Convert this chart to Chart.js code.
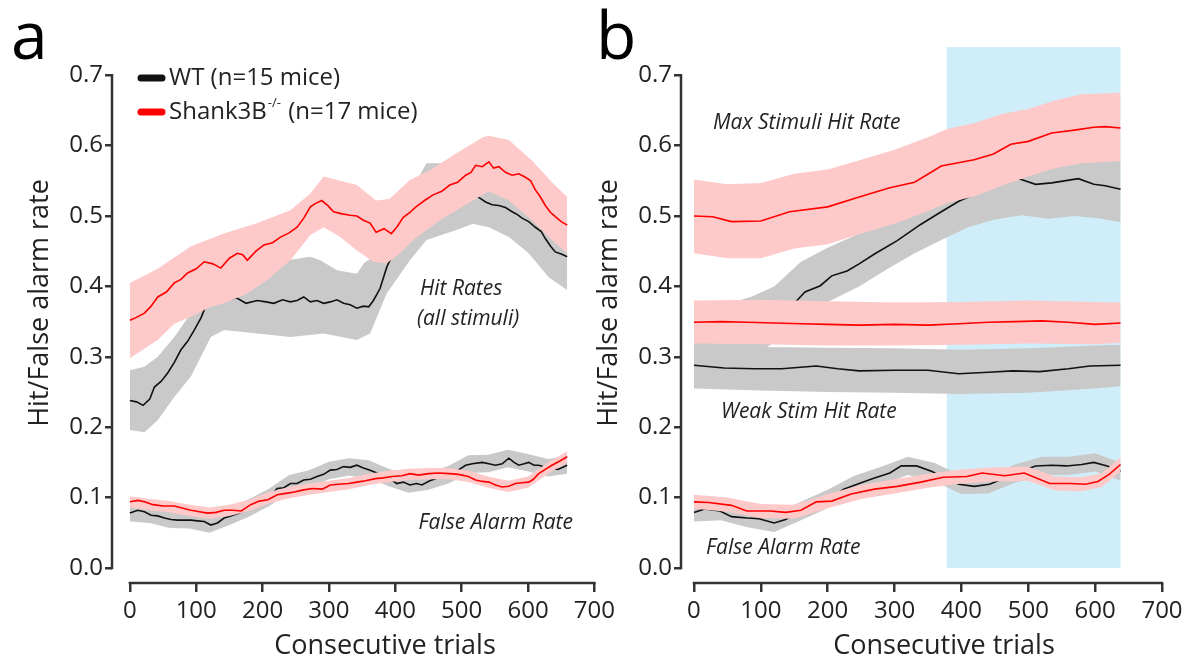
<!DOCTYPE html>
<html>
<head>
<meta charset="utf-8">
<script src="https://cdn.jsdelivr.net/npm/chart.js@4.4.0/dist/chart.umd.min.js"></script>
<style>
  body { margin: 0; background: #fff; width: 1194px; height: 665px; overflow: hidden; position: relative; }
  canvas { position: absolute; top: 0; }
  #panelA { left: 0; }
  #panelB { left: 585px; }
</style>
</head>
<body>
<canvas id="panelA" width="620" height="665"></canvas>
<canvas id="panelB" width="609" height="665"></canvas>
<script>
// ============ DATA ============
var TICK_X = [0, 100, 200, 300, 400, 500, 600, 700];
var TICK_Y = [0, 0.1, 0.2, 0.3, 0.4, 0.5, 0.6, 0.7];
var BLUE_SPAN = [378, 638];   // trials covered by the blue shading (panel b)
var BLUE_TOP = 0.74;

// --- panel a : hit rates (all stimuli) ---
var aHitRedT = [0,10,22,32,42,55,67,77,87,100,112,125,137,150,162,170,177,190,202,215,227,240,252,262,272,280,289,298,307,320,332,342,352,362,371,383,394,403,412,422,431,444,457,470,482,494,506,514,521,531,541,548,556,566,576,586,596,604,611,618,626,634,641,650,659];
var aHitRed  = [.352,.356,.362,.372,.385,.392,.405,.410,.419,.425,.435,.432,.426,.440,.447,.445,.437,.450,.459,.462,.470,.476,.484,.497,.513,.518,.522,.515,.506,.503,.501,.500,.494,.490,.477,.482,.475,.485,.498,.505,.513,.522,.530,.535,.544,.548,.558,.562,.572,.570,.577,.568,.570,.562,.558,.560,.555,.550,.537,.528,.515,.505,.499,.492,.487];
var aHitPinkUpT = [0,42,92,142,192,242,272,292,342,371,391,422,452,492,532,541,571,606,636,659];
var aHitPinkUp  = [.405,.425,.457,.475,.490,.508,.532,.556,.544,.522,.524,.551,.565,.589,.612,.614,.608,.579,.548,.527];
var aHitPinkLoT = [0,42,67,92,122,142,177,207,242,272,292,317,342,367,387,407,427,467,517,541,571,606,636,659];
var aHitPinkLo  = [.298,.324,.347,.357,.371,.376,.390,.409,.437,.473,.484,.470,.451,.435,.433,.447,.466,.494,.522,.535,.522,.494,.466,.447];

var aHitBlackT = [0,10,20,30,37,47,57,67,77,87,97,107,117,130,145,160,175,192,205,217,230,242,252,262,272,282,292,302,312,322,332,342,352,360,367,377,387,400,420,440,460,480,500,510,519,528,536,546,556,566,576,584,591,601,611,620,626,634,641,650,659];
var aHitBlack  = [.238,.236,.231,.240,.257,.265,.277,.292,.310,.322,.338,.355,.378,.382,.380,.384,.376,.380,.378,.376,.381,.378,.380,.385,.378,.380,.376,.378,.381,.376,.374,.369,.372,.371,.380,.397,.427,.455,.478,.497,.508,.515,.518,.523,.530,.525,.520,.516,.515,.512,.506,.502,.497,.492,.484,.478,.468,.457,.449,.446,.442];
var aHitGrayUpT = [0,22,42,67,92,112,140,170,200,237,272,287,312,342,352,370,390,420,447,487,520,550,580,610,640,659];
var aHitGrayUp  = [.281,.286,.300,.328,.362,.415,.425,.428,.430,.437,.442,.437,.423,.418,.432,.445,.475,.530,.575,.575,.580,.565,.555,.535,.500,.490];
var aHitGrayLoT = [0,22,42,67,92,122,142,192,242,292,342,362,387,422,447,492,517,541,571,601,631,659];
var aHitGrayLo  = [.196,.193,.210,.243,.272,.328,.338,.333,.328,.333,.324,.333,.390,.437,.466,.480,.489,.484,.470,.447,.413,.395];

// --- panel a : false alarm rate ---
var aFaRedT = [0,12,22,35,50,67,80,92,105,117,130,142,155,168,182,195,208,222,235,248,262,275,290,302,315,330,342,355,370,382,395,410,422,435,450,465,482,495,510,521,531,541,551,561,571,581,591,601,608,616,626,636,648,659];
var aFaRed  = [.094,.096,.094,.090,.088,.088,.085,.082,.080,.078,.079,.082,.082,.081,.090,.095,.097,.104,.106,.108,.111,.113,.112,.118,.119,.120,.122,.124,.127,.128,.130,.131,.134,.132,.134,.135,.134,.133,.130,.125,.123,.122,.118,.115,.116,.120,.121,.122,.126,.134,.140,.146,.152,.158];
var aFaBandT = [0,30,60,90,120,150,180,210,240,270,300,330,360,390,420,450,480,510,540,570,600,630,659];
var aFaPinkUp = [.102,.098,.095,.090,.086,.090,.097,.108,.115,.120,.124,.128,.134,.138,.141,.142,.142,.138,.130,.124,.130,.150,.166];
var aFaPinkLo = [.086,.082,.079,.074,.070,.074,.081,.092,.099,.104,.108,.112,.118,.122,.125,.126,.126,.122,.114,.108,.114,.134,.150];
var aFaBlackT = [0,12,22,32,42,52,62,72,82,92,102,112,122,132,142,152,165,180,195,210,222,232,242,252,262,272,282,292,302,312,322,332,342,352,362,375,390,402,412,422,432,440,452,470,490,506,516,531,541,551,561,571,579,586,594,601,609,616,630,645,659];
var aFaBlack  = [.078,.082,.080,.075,.074,.071,.069,.068,.068,.068,.067,.066,.061,.064,.071,.074,.078,.085,.092,.100,.113,.114,.120,.120,.125,.126,.130,.133,.139,.140,.144,.143,.146,.142,.139,.134,.128,.120,.122,.118,.120,.118,.124,.130,.136,.146,.148,.150,.148,.146,.148,.156,.150,.146,.148,.150,.146,.146,.142,.140,.146];
var aFaGrayUp = [.091,.089,.082,.081,.075,.086,.098,.113,.132,.139,.151,.156,.153,.141,.132,.136,.145,.160,.161,.168,.162,.155,.159];
var aFaGrayLo = [.066,.064,.057,.056,.050,.061,.073,.088,.107,.114,.126,.131,.128,.116,.107,.111,.120,.135,.136,.143,.137,.130,.134];

// --- panel b : max stimuli hit rate ---
var bMaxRedT = [0,28,56,100,143,200,247,293,330,370,419,448,474,500,535,569,598,615,638];
var bMaxRed  = [.500,.499,.492,.493,.506,.513,.527,.540,.548,.571,.580,.588,.602,.606,.618,.622,.626,.627,.625];
var bMaxPinkT  = [0,50,100,150,200,250,300,350,380,420,460,500,540,580,638];
var bMaxPinkUp = [.552,.545,.547,.560,.566,.580,.594,.612,.624,.632,.645,.652,.664,.673,.675];
var bMaxPinkLo = [.447,.440,.440,.454,.460,.475,.489,.507,.519,.528,.543,.556,.568,.575,.578];
var bMaxBlackT = [0,50,100,130,154,166,189,206,229,247,270,304,339,368,396,430,460,483,511,535,575,598,615,638];
var bMaxBlack  = [.330,.333,.345,.360,.380,.392,.401,.415,.422,.432,.446,.465,.488,.505,.521,.535,.546,.554,.545,.547,.553,.545,.543,.538];
var bMaxGrayT  = [0,50,85,120,160,200,247,290,330,370,410,450,490,530,570,610,638];
var bMaxGrayUp = [.372,.375,.385,.400,.435,.455,.475,.500,.530,.550,.565,.585,.595,.590,.585,.582,.578];
var bMaxGrayLo = [.290,.290,.300,.320,.345,.378,.400,.425,.447,.466,.484,.495,.501,.496,.500,.496,.491];

// --- panel b : weak stimuli hit rate ---
var bWeakRedT = [0,40,80,120,160,200,247,300,350,396,440,480,520,560,600,638];
var bWeakRed  = [.349,.350,.349,.348,.347,.346,.345,.346,.345,.347,.349,.350,.351,.349,.346,.348];
var bWeakBandT = [0,100,200,300,400,500,600,638];
var bWeakPinkUp = [.380,.381,.379,.377,.378,.380,.378,.377];
var bWeakPinkLo = [.319,.318,.316,.316,.317,.319,.318,.320];
var bWeakBlackT = [0,45,90,131,183,215,247,300,350,396,440,477,517,560,592,638];
var bWeakBlack  = [.288,.284,.283,.283,.287,.283,.280,.281,.281,.276,.278,.280,.279,.283,.287,.288];
var bWeakGrayUp = [.316,.314,.313,.312,.310,.312,.316,.317];
var bWeakGrayLo = [.255,.252,.250,.249,.247,.249,.255,.258];

// --- panel b : false alarm rate ---
var bFaRedT = [0,22,56,79,114,137,160,183,206,235,270,304,339,373,408,431,465,494,532,563,586,604,621,638];
var bFaRed  = [.094,.093,.089,.081,.081,.079,.082,.094,.095,.105,.112,.116,.122,.129,.130,.135,.131,.135,.120,.120,.119,.123,.133,.147];
var bFaPinkT  = [0,50,100,150,200,250,300,350,400,450,500,540,580,610,638];
var bFaPinkUp = [.104,.100,.091,.090,.105,.118,.126,.134,.140,.143,.144,.130,.129,.135,.157];
var bFaPinkLo = [.084,.080,.071,.070,.085,.098,.106,.114,.120,.123,.124,.110,.109,.115,.137];
var bFaBlackT = [0,16,39,56,80,97,120,137,160,185,205,224,247,270,293,310,333,356,375,396,419,442,465,488,511,535,557,580,598,618,638];
var bFaBlack  = [.079,.084,.081,.073,.071,.070,.064,.069,.081,.092,.100,.112,.120,.128,.135,.145,.145,.137,.128,.119,.116,.119,.128,.137,.145,.146,.145,.147,.150,.145,.137];
var bFaGrayT  = [0,40,80,120,160,200,240,280,320,360,400,440,480,520,560,600,638];
var bFaGrayUp = [.092,.094,.084,.077,.094,.111,.131,.144,.158,.149,.131,.132,.147,.158,.158,.163,.150];
var bFaGrayLo = [.066,.068,.058,.051,.068,.085,.105,.118,.132,.123,.105,.106,.121,.132,.132,.137,.124];

// ============ STYLE ============
var RED = '#ff0000', PINK = '#fdc9c9', BLACK = '#111111', GRAY = '#c9c9c9', BLUE = '#d0eefa';
var INK = '#222222', AXIS = '#333333';
var FONT = "'Open Sans', sans-serif";
Chart.defaults.font.family = FONT;
Chart.defaults.color = INK;

function pts(t, v) {
  return t.map(function(x, i) { return { x: x, y: v[i] }; });
}
function lineDs(t, v, color) {
  return { data: pts(t, v), borderColor: color, borderWidth: 1.6, pointRadius: 0, fill: false, tension: 0 };
}
function bandDs(tUp, up, tLo, lo, color) {
  return [
    { data: pts(tUp, up), borderColor: 'rgba(0,0,0,0)', borderWidth: 0, pointRadius: 0, fill: '+1', backgroundColor: color, tension: 0 },
    { data: pts(tLo, lo), borderColor: 'rgba(0,0,0,0)', borderWidth: 0, pointRadius: 0, fill: false, tension: 0 }
  ];
}

// ============ PLUGINS ============
var spinePlugin = {
  id: 'spines',
  afterDraw: function(chart) {
    var ctx = chart.ctx, xs = chart.scales.x, ys = chart.scales.y, a = chart.chartArea;
    ctx.save();
    ctx.strokeStyle = AXIS;
    ctx.lineWidth = 2.5;
    ctx.beginPath();
    ctx.moveTo(a.left, ys.getPixelForValue(0) + 1.2);
    ctx.lineTo(a.left, ys.getPixelForValue(0.7) - 1.2);
    ctx.moveTo(xs.getPixelForValue(0) - 1.2, a.bottom);
    ctx.lineTo(xs.getPixelForValue(700) + 1.2, a.bottom);
    ctx.stroke();
    ctx.restore();
  }
};

function overlayPlugin(spec) {
  return {
    id: 'overlay',
    beforeDatasetsDraw: function(chart) {
      if (!spec.blue) return;
      var ctx = chart.ctx, xs = chart.scales.x, ys = chart.scales.y;
      var x0 = xs.getPixelForValue(BLUE_SPAN[0]), x1 = xs.getPixelForValue(BLUE_SPAN[1]);
      var y0 = ys.getPixelForValue(BLUE_TOP), y1 = ys.getPixelForValue(0);
      ctx.save();
      ctx.fillStyle = BLUE;
      ctx.fillRect(x0, y0, x1 - x0, y1 - y0);
      ctx.restore();
    },
    afterDraw: function(chart) {
      var ctx = chart.ctx;
      ctx.save();
      // panel letter
      ctx.fillStyle = '#000';
      ctx.textBaseline = 'alphabetic';
      ctx.textAlign = 'left';
      ctx.font = '66px ' + FONT;
      ctx.fillText(spec.letter, 11, 59);

      // axis titles
      ctx.fillStyle = INK;
      ctx.textAlign = 'center';
      ctx.textBaseline = 'middle';
      ctx.font = '27px ' + FONT;
      ctx.fillText('Consecutive trials', spec.xTitle[0], spec.xTitle[1]);
      ctx.save();
      ctx.translate(spec.yTitle[0], spec.yTitle[1]);
      ctx.rotate(-Math.PI / 2);
      ctx.fillText('Hit/False alarm rate', 0, 0);
      ctx.restore();

      // italic notes
      ctx.font = 'italic 21px ' + FONT;
      spec.notes.forEach(function(n) {
        ctx.textAlign = n.align || 'left';
        ctx.fillText(n.text, n.x, n.y);
      });

      if (spec.legend) {
        ctx.lineCap = 'round';
        ctx.lineWidth = 7;
        [[BLACK, 78], [RED, 112]].forEach(function(m) {
          ctx.strokeStyle = m[0];
          ctx.beginPath();
          ctx.moveTo(141, m[1]);
          ctx.lineTo(162, m[1]);
          ctx.stroke();
        });
        ctx.textAlign = 'left';
        ctx.font = '24px ' + FONT;
        ctx.fillText('WT (n=15 mice)', 169, 78);
        var x = 169;
        ctx.fillText('Shank3B', x, 112);
        x += ctx.measureText('Shank3B').width;
        ctx.font = '13px ' + FONT;
        ctx.fillText('-/-', x + 1, 103);
        x += ctx.measureText('-/-').width + 2;
        ctx.font = '24px ' + FONT;
        ctx.fillText(' (n=17 mice)', x, 112);
      }
      ctx.restore();
    }
  };
}

// ============ CHART BUILDER ============
function makePanel(id, spec) {
  var ds = [];
  spec.reds.forEach(function(s) { ds.push(lineDs(s[0], s[1], RED)); });
  spec.pinks.forEach(function(b) { ds = ds.concat(bandDs(b[0], b[1], b[2], b[3], PINK)); });
  spec.blacks.forEach(function(s) { ds.push(lineDs(s[0], s[1], BLACK)); });
  spec.grays.forEach(function(b) { ds = ds.concat(bandDs(b[0], b[1], b[2], b[3], GRAY)); });

  return new Chart(document.getElementById(id), {
    type: 'line',
    data: { datasets: ds },
    options: {
      responsive: false,
      animation: false,
      layout: { padding: { left: 0, top: 40, right: spec.padRight, bottom: 0 } },
      plugins: { legend: { display: false }, tooltip: { enabled: false } },
      scales: {
        x: {
          type: 'linear',
          min: spec.xMin,
          max: 700,
          afterBuildTicks: function(s) { s.ticks = TICK_X.map(function(v) { return { value: v }; }); },
          afterFit: function(s) { s.height = 82; },
          border: { display: false },
          grid: { drawOnChartArea: false, drawTicks: true, tickLength: 9, color: AXIS, lineWidth: 2.5 },
          ticks: { font: { size: 24 }, color: INK, padding: 5, maxRotation: 0, autoSkip: false }
        },
        y: {
          min: -0.0213,
          max: 0.75,
          afterBuildTicks: function(s) { s.ticks = TICK_Y.map(function(v) { return { value: v }; }); },
          afterFit: function(s) { s.width = spec.yWidth; },
          border: { display: false },
          grid: { drawOnChartArea: false, drawTicks: true, tickLength: 7, color: AXIS, lineWidth: 2.5 },
          ticks: { font: { size: 24 }, color: INK, padding: 2, callback: function(v) { return v.toFixed(1); } }
        }
      }
    },
    plugins: [spinePlugin, overlayPlugin(spec)]
  });
}

makePanel('panelA', {
  letter: 'a', legend: true, blue: false,
  xMin: -26.9, padRight: 22, yWidth: 112,
  xTitle: [385, 646], yTitle: [40, 303],
  reds:   [[aHitRedT, aHitRed], [aFaRedT, aFaRed]],
  pinks:  [[aHitPinkUpT, aHitPinkUp, aHitPinkLoT, aHitPinkLo], [aFaBandT, aFaPinkUp, aFaBandT, aFaPinkLo]],
  blacks: [[aHitBlackT, aHitBlack], [aFaBlackT, aFaBlack]],
  grays:  [[aHitGrayUpT, aHitGrayUp, aHitGrayLoT, aHitGrayLo], [aFaBandT, aFaGrayUp, aFaBandT, aFaGrayLo]],
  notes: [
    { text: 'Hit Rates', x: 420, y: 289 },
    { text: '(all stimuli)', x: 417, y: 319 },
    { text: 'False Alarm Rate', x: 573, y: 523, align: 'right' }
  ]
});

makePanel('panelB', {
  letter: 'b', legend: false, blue: true,
  xMin: -19.4, padRight: 32, yWidth: 96,
  xTitle: [944 - 585, 646], yTitle: [609 - 585, 303],
  reds:   [[bMaxRedT, bMaxRed], [bWeakRedT, bWeakRed], [bFaRedT, bFaRed]],
  pinks:  [[bMaxPinkT, bMaxPinkUp, bMaxPinkT, bMaxPinkLo], [bWeakBandT, bWeakPinkUp, bWeakBandT, bWeakPinkLo], [bFaPinkT, bFaPinkUp, bFaPinkT, bFaPinkLo]],
  blacks: [[bMaxBlackT, bMaxBlack], [bWeakBlackT, bWeakBlack], [bFaBlackT, bFaBlack]],
  grays:  [[bMaxGrayT, bMaxGrayUp, bMaxGrayT, bMaxGrayLo], [bWeakBandT, bWeakGrayUp, bWeakBandT, bWeakGrayLo], [bFaGrayT, bFaGrayUp, bFaGrayT, bFaGrayLo]],
  notes: [
    { text: 'Max Stimuli Hit Rate', x: 128, y: 123 },
    { text: 'Weak Stim Hit Rate', x: 136, y: 412 },
    { text: 'False Alarm Rate', x: 121, y: 548 }
  ]
});
</script>
</body>
</html>
